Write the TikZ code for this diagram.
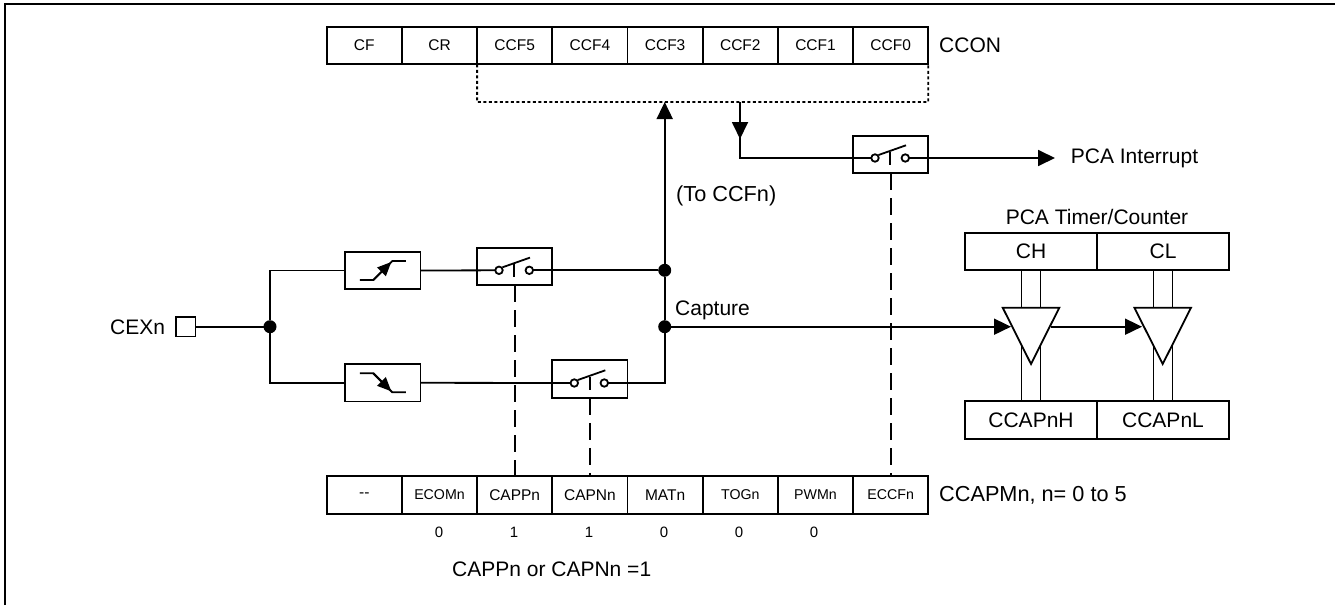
\documentclass[tikz,border=0pt]{standalone}
\usepackage{fontspec}
\setmainfont{Liberation Sans}
\usetikzlibrary{arrows.meta,backgrounds,shapes.geometric}
\tikzset{
  wire/.style    = {line width=1.8pt},
  sig/.style     = {wire, -{Triangle[length=17pt,width=16pt]}},
  ctrl/.style    = {wire, dash pattern=on 17pt off 8pt},
  dotbar/.style  = {wire, dash pattern=on 3pt off 2.5pt},
  cellbase/.style = {draw, line width=1.8pt, inner sep=0pt, outer sep=0pt,
                     minimum width=75.2pt, minimum height=37.5pt},
  regcell/.style = {cellbase, font=\fontsize{15.5}{18}\selectfont},
  tinycell/.style = {cellbase, font=\fontsize{14.2}{18}\selectfont},
  cntcell/.style = {cellbase, minimum width=132pt, font=\fontsize{21}{24}\selectfont},
  swbox/.style   = {cellbase, fill=white},
  swpin/.style   = {circle, draw, line width=1.8pt, fill=white, inner sep=0pt,
                    outer sep=0pt, minimum size=7.5pt},
  jdot/.style    = {circle, fill=black, inner sep=0pt, outer sep=0pt, minimum size=13pt},
  padbox/.style  = {draw, line width=1.8pt, inner sep=0pt, outer sep=0pt, minimum size=19.5pt},
  buf/.style     = {draw, line width=1.8pt, fill=white, shape=isosceles triangle,
                    shape border rotate=270, isosceles triangle stretches,
                    minimum width=56.6pt, minimum height=56.3pt,
                    inner sep=0pt, outer sep=0pt, anchor=apex},
  lab/.style     = {inner sep=0pt, anchor=west, font=\fontsize{21}{24}\selectfont},
  bitval/.style  = {inner sep=0pt, font=\fontsize{15}{18}\selectfont},
  swlever/.pic   = {
    \draw[wire] (3.5,-3) -- (31,-12.7);
    \draw[wire] (15.3,-6) -- (15.3,6.7);
  },
  edgeup/.pic    = {
    \draw[wire] (-23,9.5) -- (-9.5,9.5) -- (9.5,-9.5) -- (23,-9.5);
    \draw[wire, -{Triangle[length=14pt,width=12pt]}] (-9.5,9.5) -- (8.5,-8.5);
  },
  edgedown/.pic  = {
    \draw[wire] (-23,-9.5) -- (-9.5,-9.5) -- (9.5,9.5) -- (23,9.5);
    \draw[wire, -{Triangle[length=14pt,width=12pt]}] (-9.5,-9.5) -- (8.5,8.5);
  },
}
\begin{document}
\begin{tikzpicture}[x=1pt,y=-1pt]
  \useasboundingbox (0,0) rectangle (1335,605);
  \coordinate (fbl) at (5,605);
  \coordinate (ftl) at (5,4);
  \coordinate (ftr) at (1335,4);
  \draw[line width=2pt] (fbl) -- (ftl) -- (ftr);
  % CCON register
  \node[regcell] (cf)   at (364.3,45.5) {CF};
  \node[regcell] (cr)   at (439.5,45.5) {CR};
  \node[regcell] (ccf5) at (514.7,45.5) {CCF5};
  \node[regcell] (ccf4) at (589.9,45.5) {CCF4};
  \node[regcell] (ccf3) at (665.1,45.5) {CCF3};
  \node[regcell] (ccf2) at (740.3,45.5) {CCF2};
  \node[regcell] (ccf1) at (815.5,45.5) {CCF1};
  \node[regcell] (ccf0) at (890.7,45.5) {CCF0};
  \node[lab] (ccon) at (939,45) {CCON};
  \coordinate (dotl) at (477.1,102);
  \coordinate (dotr) at (928.3,102);
  \draw[dotbar] (ccf5.south west) -- (dotl) -- (dotr) -- (ccf0.south east);
  % CCAPMn register
  \node[regcell]  (unused) at (364.3,495) {-{}-};
  \node[tinycell] (ecom)   at (439.5,495) {ECOMn};
  \node[regcell]  (capp)   at (514.7,495) {CAPPn};
  \node[regcell]  (capn)   at (589.9,495) {CAPNn};
  \node[regcell]  (mat)    at (665.1,495) {MATn};
  \node[tinycell] (tog)    at (740.3,495) {TOGn};
  \node[tinycell] (pwm)    at (815.5,495) {PWMn};
  \node[tinycell] (eccf)   at (890.7,495) {ECCFn};
  \node[lab, font=\fontsize{21.7}{24}\selectfont] (ccapm) at (939,495) {CCAPMn, n= 0 to 5};
  \node[bitval] (v1) at (439,532) {0};
  \node[bitval] (v2) at (514,532) {1};
  \node[bitval] (v3) at (589,532) {1};
  \node[bitval] (v4) at (664,532) {0};
  \node[bitval] (v5) at (739,532) {0};
  \node[bitval] (v6) at (814,532) {0};
  \node[lab] (mode) at (452,569) {CAPPn or CAPNn =1};
  % input and edge detect
  \node[lab] (cexl) at (110,327) {CEXn};
  \node[padbox] (cex) at (185.7,326.7) {};
  \node[jdot] (jin) at (270,326.7) {};
  \node[cellbase] (rise) at (382.8,270.5) {};
  \node[cellbase] (fall) at (382.8,382.8) {};
  \pic at (rise) {edgeup};
  \pic at (fall) {edgedown};
  \draw[wire] (cex) -- (jin);
  \draw[wire] (rise.west) -| (jin);
  \draw[wire] (fall.west) -| (jin);
  % switches
  \node[swbox] (sw1) at (514.7,266.5) {};
  \node[swbox] (sw2) at (589.9,379) {};
  \node[swbox] (sw3) at (890.7,154.5) {};
  \node[swpin] (sw1l) at (499,270.3) {};
  \node[swpin] (sw1r) at (529.3,270.3) {};
  \node[swpin] (sw2l) at (574.3,383) {};
  \node[swpin] (sw2r) at (604.3,383) {};
  \node[swpin] (sw3l) at (875,158) {};
  \node[swpin] (sw3r) at (905.3,158) {};
  \pic at (sw1l) {swlever};
  \pic at (sw2l) {swlever};
  \pic at (sw3l) {swlever};
  \draw[ctrl] (sw1) -- (capp);
  \draw[ctrl] (sw2) -- (capn);
  \draw[ctrl] (sw3) -- (eccf);
  % capture paths
  \node[jdot] (jtop) at (664.7,270.3) {};
  \node[jdot] (jcap) at (664.7,326.7) {};
  \coordinate (ccfin) at (664.7,102);
  \coordinate (ccfout) at (740,102);
  \coordinate (ccfdrop) at (740,158);
  \coordinate (ccftip) at (740,139);
  \coordinate (intout) at (1055,158);
  \draw[wire] (rise.east) -- (sw1l);
  \draw[wire] (sw1r) -- (jtop);
  \draw[wire] (fall.east) -- (sw2l);
  \draw[wire] (sw2r) -| (jcap);
  \draw[wire] (jcap) -- (jtop);
  \draw[sig] (jtop) -- (ccfin);
  \draw[wire] (ccfout) -- (ccfdrop) -- (sw3l);
  \draw[sig] (ccfout) -- (ccftip);
  \draw[sig] (sw3r) -- (intout);
  \node[lab] (irq) at (1070.7,158) {PCA Interrupt};
  \node[lab, font=\fontsize{21.7}{24}\selectfont] (toccf) at (676,196) {(To CCFn)};
  \node[lab] (capt) at (675,310) {Capture};
  % timer and capture registers
  \node[inner sep=0pt, font=\fontsize{21}{24}\selectfont] (pcat) at (1097,217) {PCA Timer/Counter};
  \node[cntcell] (ch) at (1031,251.5) {CH};
  \node[cntcell] (cl) at (1163,251.5) {CL};
  \node[cntcell] (ccaph) at (1031,420) {CCAPnH};
  \node[cntcell] (ccapl) at (1163,420) {CCAPnL};
  \node[buf] (buf1) at (1031,364) {};
  \node[buf] (buf2) at (1162.7,364) {};
  \begin{scope}[on background layer]
    \draw[wire] ([xshift=-9.5pt]ch.south) -- ([xshift=-9.5pt]ccaph.north);
    \draw[wire] ([xshift=9.5pt]ch.south) -- ([xshift=9.5pt]ccaph.north);
    \draw[wire] ([xshift=-9.5pt]cl.south) -- ([xshift=-9.5pt]ccapl.north);
    \draw[wire] ([xshift=9.5pt]cl.south) -- ([xshift=9.5pt]ccapl.north);
  \end{scope}
  \coordinate (buf1in) at (1011,326.7);
  \coordinate (buf1out) at (1050.5,326.7);
  \coordinate (buf2in) at (1142,326.7);
  \draw[sig] (jcap) -- (buf1in);
  \draw[sig] (buf1out) -- (buf2in);
\end{tikzpicture}
\end{document}
